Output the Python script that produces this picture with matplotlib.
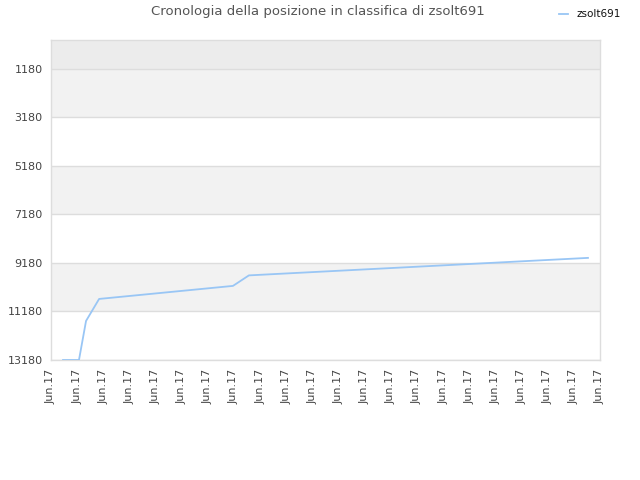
import matplotlib
matplotlib.use("Agg")
import matplotlib.pyplot as plt

# data (x in tick-index units, y = ranking position)
x_vals = [0.46, 1.07, 1.34, 1.84, 6.96, 7.57, 20.54]
positions = [13180, 13180, 11572, 10665, 10128, 9695, 8974]
y_ticks = [1180, 3180, 5180, 7180, 9180, 11180, 13180]
x_labels = ["Jun.17"] * 22
series_name = "zsolt691"
title = "Cronologia della posizione in classifica di zsolt691"

fig = plt.figure(figsize=(6.4, 4.8), dpi=100)
ax = fig.add_axes([51/640, 120/480, 549/640, 320/480])

ymin, ymax = 0, 13180
ax.set_ylim(ymax, ymin)
ax.set_xlim(0, 21)

# bands
ax.axhspan(0, 1180, color="#ececec", zorder=0, lw=0)
for i in range(len(y_ticks) - 1):
    lo, hi = y_ticks[i], y_ticks[i + 1]
    col = "#f2f2f2" if i % 2 == 0 else "#ffffff"
    ax.axhspan(lo, hi, color=col, zorder=0, lw=0)
for yt in y_ticks:
    ax.axhline(yt, color="#dddddd", lw=1, zorder=1)

ax.plot(x_vals, positions, color="#99c6f5", lw=1.3, zorder=3, label=series_name,
        solid_joinstyle="round")

ax.set_yticks(y_ticks)
ax.set_yticklabels([str(v) for v in y_ticks], fontsize=8, color="#444444")
ax.set_xticks(range(len(x_labels)))
ax.set_xticklabels(x_labels, rotation=90, fontsize=8, color="#444444")
ax.tick_params(axis="both", length=0, pad=6)

for s in ax.spines.values():
    s.set_color("#dddddd")
    s.set_linewidth(1)

fig.text(318/640, 1 - 12/480, title, ha="center", va="center",
         fontsize=9.5, color="#555555")

leg = fig.legend(loc="upper right", bbox_to_anchor=(0.984, 1.0), frameon=False,
                 fontsize=7.5, handlelength=0.8, handletextpad=0.8)
for t in leg.get_texts():
    t.set_color("#111111")

fig.savefig("out.png", dpi=100)
